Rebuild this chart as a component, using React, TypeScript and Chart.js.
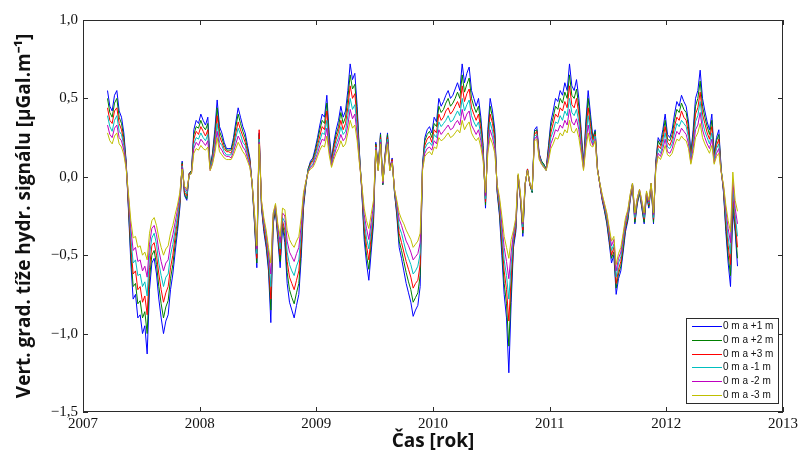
import React, { useEffect, useRef } from "react";
import { Chart, registerables } from "chart.js";

Chart.register(...registerables);

// Time axis (decimal years)
const years = [
  2007.21, 2007.23, 2007.25, 2007.27, 2007.29, 2007.31, 2007.33, 2007.35, 2007.37, 2007.39,
  2007.41, 2007.43, 2007.45, 2007.47, 2007.49, 2007.51, 2007.53, 2007.55, 2007.57, 2007.59,
  2007.61, 2007.63, 2007.65, 2007.67, 2007.69, 2007.71, 2007.73, 2007.75, 2007.77, 2007.79,
  2007.81, 2007.83, 2007.85, 2007.87, 2007.89, 2007.91, 2007.93, 2007.95, 2007.97, 2007.99,
  2008.01, 2008.03, 2008.05, 2008.07, 2008.09, 2008.11, 2008.13, 2008.15, 2008.17, 2008.19,
  2008.21, 2008.23, 2008.25, 2008.27, 2008.29, 2008.31, 2008.33, 2008.35, 2008.37, 2008.39,
  2008.41, 2008.43, 2008.45, 2008.47, 2008.49, 2008.51, 2008.53, 2008.55, 2008.57, 2008.59,
  2008.61, 2008.63, 2008.65, 2008.67, 2008.69, 2008.71, 2008.73, 2008.75, 2008.77, 2008.79,
  2008.81, 2008.83, 2008.85, 2008.87, 2008.89, 2008.91, 2008.93, 2008.95, 2008.97, 2008.99,
  2009.01, 2009.03, 2009.05, 2009.07, 2009.09, 2009.11, 2009.13, 2009.15, 2009.17, 2009.19,
  2009.21, 2009.23, 2009.25, 2009.27, 2009.29, 2009.31, 2009.33, 2009.35, 2009.37, 2009.39,
  2009.41, 2009.43, 2009.45, 2009.47, 2009.49, 2009.51, 2009.53, 2009.55, 2009.57, 2009.59,
  2009.61, 2009.63, 2009.65, 2009.67, 2009.69, 2009.71, 2009.73, 2009.75, 2009.77, 2009.79,
  2009.81, 2009.83, 2009.85, 2009.87, 2009.89, 2009.91, 2009.93, 2009.95, 2009.97, 2009.99,
  2010.01, 2010.03, 2010.05, 2010.07, 2010.09, 2010.11, 2010.13, 2010.15, 2010.17, 2010.19,
  2010.21, 2010.23, 2010.25, 2010.27, 2010.29, 2010.31, 2010.33, 2010.35, 2010.37, 2010.39,
  2010.41, 2010.43, 2010.45, 2010.47, 2010.49, 2010.51, 2010.53, 2010.55, 2010.57, 2010.59,
  2010.61, 2010.63, 2010.65, 2010.67, 2010.69, 2010.71, 2010.73, 2010.75, 2010.77, 2010.79,
  2010.81, 2010.83, 2010.85, 2010.87, 2010.89, 2010.91, 2010.93, 2010.95, 2010.97, 2010.99,
  2011.01, 2011.03, 2011.05, 2011.07, 2011.09, 2011.11, 2011.13, 2011.15, 2011.17, 2011.19,
  2011.21, 2011.23, 2011.25, 2011.27, 2011.29, 2011.31, 2011.33, 2011.35, 2011.37, 2011.39,
  2011.41, 2011.43, 2011.45, 2011.47, 2011.49, 2011.51, 2011.53, 2011.55, 2011.57, 2011.59,
  2011.61, 2011.63, 2011.65, 2011.67, 2011.69, 2011.71, 2011.73, 2011.75, 2011.77, 2011.79,
  2011.81, 2011.83, 2011.85, 2011.87, 2011.89, 2011.91, 2011.93, 2011.95, 2011.97, 2011.99,
  2012.01, 2012.03, 2012.05, 2012.07, 2012.09, 2012.11, 2012.13, 2012.15, 2012.17, 2012.19,
  2012.21, 2012.23, 2012.25, 2012.27, 2012.29, 2012.31, 2012.33, 2012.35, 2012.37, 2012.39,
  2012.41, 2012.43, 2012.45, 2012.47, 2012.49, 2012.51, 2012.53, 2012.55, 2012.57, 2012.59,
  2012.61,
];

const plus1 = [
  0.55, 0.45, 0.42, 0.52, 0.55, 0.42, 0.38, 0.28, 0.10, -0.22,
  -0.55, -0.78, -0.75, -0.90, -0.88, -1.00, -0.95, -1.13, -0.72, -0.55,
  -0.52, -0.62, -0.78, -0.90, -1.00, -0.92, -0.88, -0.72, -0.62, -0.48,
  -0.35, -0.20, 0.10, -0.12, -0.15, 0.02, 0.04, 0.30, 0.36, 0.34,
  0.40, 0.36, 0.33, 0.38, 0.06, 0.15, 0.30, 0.49, 0.32, 0.28,
  0.22, 0.18, 0.18, 0.18, 0.25, 0.35, 0.44, 0.38, 0.32, 0.28,
  0.20, 0.12, -0.05, -0.30, -0.58, 0.28, -0.20, -0.35, -0.45, -0.60,
  -0.93, -0.30, -0.22, -0.40, -0.58, -0.32, -0.42, -0.68, -0.80, -0.85,
  -0.90, -0.82, -0.75, -0.52, -0.20, -0.05, 0.05, 0.10, 0.12, 0.18,
  0.25, 0.33, 0.40, 0.38, 0.52, 0.28, 0.11, 0.22, 0.30, 0.36,
  0.45, 0.38, 0.42, 0.55, 0.72, 0.62, 0.66, 0.45, 0.15, -0.10,
  -0.40, -0.55, -0.66, -0.48, -0.30, 0.22, 0.05, 0.28, -0.05, 0.15,
  0.28, 0.05, 0.12, -0.10, -0.25, -0.45, -0.52, -0.60, -0.68, -0.74,
  -0.80, -0.89, -0.85, -0.82, -0.70, 0.08, 0.25, 0.30, 0.32, 0.28,
  0.38, 0.35, 0.50, 0.45, 0.48, 0.52, 0.55, 0.50, 0.52, 0.56,
  0.60, 0.55, 0.72, 0.60, 0.66, 0.70, 0.55, 0.50, 0.45, 0.50,
  0.38, 0.20, -0.20, 0.30, 0.50, 0.42, 0.30, -0.10, -0.25, -0.50,
  -0.75, -0.90, -1.25, -0.80, -0.45, -0.35, 0.00, -0.15, -0.38, -0.05,
  0.05, -0.05, -0.10, 0.30, 0.32, 0.15, 0.10, 0.08, 0.05, 0.20,
  0.35, 0.42, 0.50, 0.48, 0.55, 0.52, 0.60, 0.55, 0.72, 0.58,
  0.55, 0.62, 0.50, 0.30, 0.08, 0.35, 0.55, 0.40, 0.25, 0.30,
  0.05, -0.05, -0.15, -0.22, -0.30, -0.42, -0.55, -0.50, -0.75, -0.65,
  -0.60, -0.48, -0.35, -0.28, -0.15, -0.05, -0.30, -0.18, -0.10, -0.20,
  -0.30, -0.12, -0.20, -0.05, -0.30, 0.10, 0.25, 0.22, 0.30, 0.40,
  0.27, 0.25, 0.30, 0.40, 0.48, 0.45, 0.52, 0.48, 0.45, 0.35,
  0.15, 0.30, 0.50, 0.55, 0.68, 0.50, 0.42, 0.35, 0.30, 0.40,
  0.15, 0.25, 0.30, 0.05, -0.10, -0.35, -0.55, -0.70, -0.22, -0.35,
  -0.57,
];

const plus2 = [
  0.50, 0.41, 0.38, 0.47, 0.50, 0.38, 0.34, 0.25, 0.09, -0.20,
  -0.50, -0.70, -0.68, -0.81, -0.79, -0.90, -0.86, -1.00, -0.65, -0.50,
  -0.47, -0.56, -0.70, -0.81, -0.90, -0.83, -0.79, -0.65, -0.56, -0.43,
  -0.32, -0.18, 0.09, -0.11, -0.14, 0.02, 0.04, 0.27, 0.32, 0.31,
  0.36, 0.32, 0.30, 0.34, 0.06, 0.14, 0.27, 0.44, 0.29, 0.25,
  0.20, 0.17, 0.17, 0.17, 0.23, 0.32, 0.40, 0.34, 0.29, 0.25,
  0.18, 0.11, -0.05, -0.29, -0.55, 0.27, -0.19, -0.33, -0.43, -0.57,
  -0.85, -0.29, -0.21, -0.38, -0.54, -0.30, -0.38, -0.61, -0.72, -0.77,
  -0.81, -0.74, -0.68, -0.47, -0.18, -0.05, 0.05, 0.09, 0.11, 0.16,
  0.23, 0.30, 0.36, 0.34, 0.47, 0.25, 0.10, 0.20, 0.27, 0.32,
  0.41, 0.34, 0.38, 0.50, 0.65, 0.56, 0.59, 0.41, 0.14, -0.09,
  -0.36, -0.50, -0.59, -0.43, -0.27, 0.21, 0.05, 0.27, -0.05, 0.14,
  0.27, 0.05, 0.11, -0.10, -0.23, -0.41, -0.47, -0.54, -0.61, -0.67,
  -0.72, -0.80, -0.77, -0.74, -0.63, 0.07, 0.23, 0.27, 0.29, 0.25,
  0.34, 0.32, 0.45, 0.41, 0.43, 0.47, 0.50, 0.45, 0.47, 0.50,
  0.54, 0.50, 0.65, 0.54, 0.59, 0.63, 0.50, 0.45, 0.41, 0.45,
  0.34, 0.18, -0.18, 0.27, 0.45, 0.38, 0.27, -0.09, -0.23, -0.45,
  -0.68, -0.81, -1.08, -0.72, -0.43, -0.33, 0.00, -0.14, -0.36, -0.05,
  0.05, -0.05, -0.10, 0.29, 0.30, 0.14, 0.10, 0.08, 0.05, 0.18,
  0.32, 0.38, 0.45, 0.43, 0.50, 0.47, 0.54, 0.50, 0.65, 0.52,
  0.50, 0.56, 0.45, 0.27, 0.07, 0.32, 0.50, 0.36, 0.24, 0.29,
  0.05, -0.05, -0.14, -0.21, -0.29, -0.40, -0.52, -0.48, -0.71, -0.62,
  -0.57, -0.46, -0.33, -0.27, -0.14, -0.05, -0.29, -0.17, -0.10, -0.19,
  -0.29, -0.11, -0.19, -0.05, -0.29, 0.09, 0.23, 0.20, 0.27, 0.36,
  0.24, 0.23, 0.27, 0.36, 0.43, 0.41, 0.47, 0.43, 0.41, 0.32,
  0.14, 0.27, 0.45, 0.50, 0.61, 0.45, 0.38, 0.32, 0.27, 0.36,
  0.14, 0.23, 0.27, 0.05, -0.09, -0.32, -0.50, -0.63, -0.17, -0.32,
  -0.52,
];

const plus3 = [
  0.44, 0.36, 0.34, 0.42, 0.44, 0.34, 0.30, 0.22, 0.08, -0.18,
  -0.44, -0.62, -0.60, -0.72, -0.70, -0.80, -0.76, -0.88, -0.58, -0.44,
  -0.42, -0.50, -0.62, -0.72, -0.80, -0.74, -0.70, -0.58, -0.50, -0.38,
  -0.28, -0.16, 0.08, -0.10, -0.12, 0.02, 0.03, 0.24, 0.29, 0.27,
  0.32, 0.29, 0.26, 0.30, 0.05, 0.12, 0.24, 0.39, 0.26, 0.22,
  0.18, 0.16, 0.16, 0.15, 0.20, 0.28, 0.35, 0.30, 0.26, 0.22,
  0.16, 0.10, -0.05, -0.27, -0.52, 0.30, -0.18, -0.32, -0.41, -0.54,
  -0.78, -0.27, -0.20, -0.36, -0.50, -0.28, -0.34, -0.54, -0.64, -0.68,
  -0.72, -0.66, -0.60, -0.42, -0.16, -0.04, 0.04, 0.08, 0.10, 0.14,
  0.20, 0.26, 0.32, 0.30, 0.42, 0.22, 0.09, 0.18, 0.24, 0.29,
  0.36, 0.30, 0.34, 0.44, 0.58, 0.50, 0.53, 0.36, 0.12, -0.08,
  -0.32, -0.44, -0.53, -0.38, -0.24, 0.20, 0.05, 0.25, -0.04, 0.14,
  0.25, 0.05, 0.11, -0.09, -0.21, -0.36, -0.42, -0.48, -0.54, -0.59,
  -0.64, -0.71, -0.68, -0.66, -0.56, 0.06, 0.20, 0.24, 0.26, 0.22,
  0.30, 0.28, 0.40, 0.36, 0.38, 0.42, 0.44, 0.40, 0.42, 0.45,
  0.48, 0.44, 0.58, 0.48, 0.53, 0.56, 0.44, 0.40, 0.36, 0.40,
  0.30, 0.16, -0.16, 0.24, 0.40, 0.34, 0.24, -0.08, -0.20, -0.40,
  -0.60, -0.72, -0.92, -0.64, -0.41, -0.32, 0.01, -0.14, -0.34, -0.05,
  0.05, -0.05, -0.09, 0.27, 0.29, 0.14, 0.09, 0.07, 0.05, 0.16,
  0.28, 0.34, 0.40, 0.38, 0.44, 0.42, 0.48, 0.44, 0.58, 0.46,
  0.44, 0.50, 0.40, 0.24, 0.06, 0.28, 0.44, 0.32, 0.23, 0.27,
  0.05, -0.05, -0.14, -0.20, -0.27, -0.38, -0.50, -0.45, -0.68, -0.59,
  -0.54, -0.43, -0.32, -0.25, -0.14, -0.05, -0.27, -0.16, -0.09, -0.18,
  -0.27, -0.11, -0.18, -0.05, -0.27, 0.08, 0.20, 0.18, 0.24, 0.32,
  0.22, 0.20, 0.24, 0.32, 0.38, 0.36, 0.42, 0.38, 0.36, 0.28,
  0.12, 0.24, 0.40, 0.44, 0.54, 0.40, 0.34, 0.28, 0.24, 0.32,
  0.12, 0.20, 0.24, 0.04, -0.08, -0.28, -0.44, -0.56, -0.12, -0.28,
  -0.45,
];

const minus1 = [
  0.39, 0.32, 0.29, 0.36, 0.39, 0.29, 0.27, 0.20, 0.07, -0.15,
  -0.39, -0.55, -0.53, -0.63, -0.62, -0.70, -0.67, -0.76, -0.50, -0.39,
  -0.36, -0.43, -0.55, -0.63, -0.70, -0.64, -0.62, -0.50, -0.43, -0.34,
  -0.25, -0.14, 0.07, -0.08, -0.11, 0.01, 0.03, 0.21, 0.25, 0.24,
  0.28, 0.25, 0.23, 0.27, 0.05, 0.11, 0.21, 0.34, 0.22, 0.20,
  0.16, 0.14, 0.14, 0.14, 0.18, 0.25, 0.31, 0.27, 0.22, 0.20,
  0.14, 0.08, -0.04, -0.26, -0.49, 0.24, -0.17, -0.30, -0.38, -0.51,
  -0.70, -0.26, -0.19, -0.34, -0.46, -0.26, -0.29, -0.48, -0.56, -0.60,
  -0.63, -0.57, -0.53, -0.36, -0.14, -0.04, 0.04, 0.07, 0.08, 0.13,
  0.18, 0.23, 0.28, 0.27, 0.36, 0.20, 0.08, 0.15, 0.21, 0.25,
  0.32, 0.27, 0.29, 0.39, 0.50, 0.43, 0.46, 0.32, 0.11, -0.07,
  -0.28, -0.39, -0.46, -0.34, -0.21, 0.19, 0.04, 0.24, -0.04, 0.13,
  0.24, 0.04, 0.10, -0.09, -0.19, -0.32, -0.36, -0.42, -0.48, -0.52,
  -0.56, -0.62, -0.60, -0.57, -0.49, 0.06, 0.18, 0.21, 0.22, 0.20,
  0.27, 0.25, 0.35, 0.32, 0.34, 0.36, 0.39, 0.35, 0.36, 0.39,
  0.42, 0.39, 0.50, 0.42, 0.46, 0.49, 0.39, 0.35, 0.32, 0.35,
  0.27, 0.14, -0.14, 0.21, 0.35, 0.29, 0.21, -0.07, -0.18, -0.35,
  -0.53, -0.63, -0.78, -0.56, -0.38, -0.30, 0.01, -0.13, -0.32, -0.04,
  0.04, -0.04, -0.09, 0.26, 0.27, 0.13, 0.09, 0.07, 0.04, 0.14,
  0.25, 0.29, 0.35, 0.34, 0.39, 0.36, 0.42, 0.39, 0.50, 0.41,
  0.39, 0.43, 0.35, 0.21, 0.06, 0.25, 0.39, 0.28, 0.21, 0.26,
  0.04, -0.04, -0.13, -0.19, -0.26, -0.36, -0.47, -0.43, -0.64, -0.55,
  -0.51, -0.41, -0.30, -0.24, -0.13, -0.04, -0.26, -0.15, -0.09, -0.17,
  -0.26, -0.10, -0.17, -0.04, -0.26, 0.07, 0.18, 0.15, 0.21, 0.28,
  0.19, 0.18, 0.21, 0.28, 0.34, 0.32, 0.36, 0.34, 0.32, 0.25,
  0.11, 0.21, 0.35, 0.39, 0.48, 0.35, 0.29, 0.25, 0.21, 0.28,
  0.11, 0.18, 0.21, 0.04, -0.07, -0.25, -0.39, -0.49, -0.07, -0.24,
  -0.38,
];

const minus2 = [
  0.33, 0.27, 0.25, 0.31, 0.33, 0.25, 0.23, 0.17, 0.06, -0.13,
  -0.33, -0.47, -0.45, -0.54, -0.53, -0.60, -0.57, -0.64, -0.43, -0.33,
  -0.31, -0.37, -0.47, -0.54, -0.60, -0.55, -0.53, -0.43, -0.37, -0.29,
  -0.21, -0.12, 0.06, -0.07, -0.09, 0.01, 0.02, 0.18, 0.22, 0.20,
  0.24, 0.22, 0.20, 0.23, 0.04, 0.09, 0.18, 0.29, 0.19, 0.17,
  0.14, 0.13, 0.13, 0.12, 0.16, 0.21, 0.26, 0.23, 0.19, 0.17,
  0.12, 0.07, -0.04, -0.24, -0.46, 0.22, -0.16, -0.28, -0.36, -0.48,
  -0.62, -0.24, -0.18, -0.32, -0.42, -0.23, -0.25, -0.41, -0.48, -0.51,
  -0.54, -0.49, -0.45, -0.31, -0.12, -0.03, 0.03, 0.06, 0.07, 0.11,
  0.15, 0.20, 0.24, 0.23, 0.31, 0.17, 0.07, 0.13, 0.18, 0.22,
  0.27, 0.23, 0.25, 0.33, 0.43, 0.37, 0.40, 0.27, 0.09, -0.06,
  -0.24, -0.33, -0.40, -0.29, -0.18, 0.18, 0.04, 0.22, -0.04, 0.12,
  0.22, 0.04, 0.10, -0.08, -0.17, -0.27, -0.31, -0.36, -0.41, -0.44,
  -0.48, -0.53, -0.51, -0.49, -0.42, 0.05, 0.15, 0.18, 0.19, 0.17,
  0.23, 0.21, 0.30, 0.27, 0.29, 0.31, 0.33, 0.30, 0.31, 0.34,
  0.36, 0.33, 0.43, 0.36, 0.40, 0.42, 0.33, 0.30, 0.27, 0.30,
  0.23, 0.12, -0.12, 0.18, 0.30, 0.25, 0.18, -0.06, -0.15, -0.30,
  -0.45, -0.54, -0.65, -0.48, -0.36, -0.28, 0.01, -0.12, -0.30, -0.04,
  0.04, -0.04, -0.08, 0.24, 0.26, 0.12, 0.08, 0.06, 0.04, 0.12,
  0.21, 0.25, 0.30, 0.29, 0.33, 0.31, 0.36, 0.33, 0.43, 0.35,
  0.33, 0.37, 0.30, 0.18, 0.05, 0.21, 0.33, 0.24, 0.20, 0.24,
  0.04, -0.04, -0.12, -0.18, -0.24, -0.34, -0.44, -0.40, -0.60, -0.52,
  -0.48, -0.38, -0.28, -0.22, -0.12, -0.04, -0.24, -0.14, -0.08, -0.16,
  -0.24, -0.10, -0.16, -0.04, -0.24, 0.06, 0.15, 0.13, 0.18, 0.24,
  0.16, 0.15, 0.18, 0.24, 0.29, 0.27, 0.31, 0.29, 0.27, 0.21,
  0.09, 0.18, 0.30, 0.33, 0.41, 0.30, 0.25, 0.21, 0.18, 0.24,
  0.09, 0.15, 0.18, 0.03, -0.06, -0.21, -0.33, -0.42, -0.02, -0.20,
  -0.30,
];

const minus3 = [
  0.28, 0.23, 0.21, 0.26, 0.28, 0.21, 0.19, 0.14, 0.05, -0.11,
  -0.28, -0.39, -0.38, -0.45, -0.44, -0.50, -0.48, -0.53, -0.36, -0.28,
  -0.26, -0.31, -0.39, -0.45, -0.50, -0.46, -0.44, -0.36, -0.31, -0.24,
  -0.18, -0.10, 0.05, -0.06, -0.08, 0.01, 0.02, 0.15, 0.18, 0.17,
  0.20, 0.18, 0.17, 0.19, 0.04, 0.08, 0.15, 0.25, 0.16, 0.14,
  0.12, 0.11, 0.11, 0.11, 0.14, 0.18, 0.22, 0.19, 0.16, 0.14,
  0.10, 0.06, -0.04, -0.23, -0.44, 0.21, -0.15, -0.26, -0.34, -0.45,
  -0.55, -0.23, -0.17, -0.30, -0.38, -0.20, -0.21, -0.34, -0.40, -0.43,
  -0.45, -0.41, -0.38, -0.26, -0.10, -0.03, 0.03, 0.05, 0.06, 0.09,
  0.13, 0.17, 0.20, 0.19, 0.26, 0.14, 0.06, 0.11, 0.15, 0.18,
  0.23, 0.19, 0.21, 0.28, 0.36, 0.31, 0.33, 0.23, 0.08, -0.05,
  -0.20, -0.28, -0.33, -0.24, -0.15, 0.17, 0.04, 0.21, -0.03, 0.11,
  0.21, 0.04, 0.09, -0.08, -0.15, -0.23, -0.27, -0.30, -0.34, -0.37,
  -0.40, -0.45, -0.43, -0.41, -0.36, 0.04, 0.13, 0.15, 0.16, 0.14,
  0.19, 0.18, 0.25, 0.23, 0.24, 0.26, 0.28, 0.25, 0.26, 0.28,
  0.30, 0.28, 0.36, 0.30, 0.33, 0.35, 0.28, 0.25, 0.23, 0.25,
  0.19, 0.10, -0.10, 0.15, 0.25, 0.21, 0.15, -0.05, -0.13, -0.25,
  -0.38, -0.45, -0.52, -0.40, -0.34, -0.26, 0.02, -0.11, -0.29, -0.04,
  0.04, -0.04, -0.08, 0.23, 0.24, 0.11, 0.08, 0.06, 0.04, 0.10,
  0.18, 0.21, 0.25, 0.24, 0.28, 0.26, 0.30, 0.28, 0.36, 0.29,
  0.28, 0.31, 0.25, 0.15, 0.04, 0.18, 0.28, 0.20, 0.19, 0.23,
  0.04, -0.04, -0.11, -0.17, -0.23, -0.32, -0.41, -0.38, -0.56, -0.49,
  -0.45, -0.36, -0.26, -0.21, -0.11, -0.04, -0.23, -0.14, -0.08, -0.15,
  -0.23, -0.09, -0.15, -0.04, -0.23, 0.05, 0.13, 0.11, 0.15, 0.20,
  0.14, 0.13, 0.15, 0.20, 0.24, 0.23, 0.26, 0.24, 0.23, 0.18,
  0.08, 0.15, 0.25, 0.28, 0.34, 0.25, 0.21, 0.18, 0.15, 0.20,
  0.08, 0.13, 0.15, 0.03, -0.05, -0.18, -0.28, -0.35, 0.03, -0.15,
  -0.22,
];

const seriesLabels = ["0 m a +1 m", "0 m a +2 m", "0 m a +3 m", "0 m a -1 m", "0 m a -2 m", "0 m a -3 m"];
const seriesValues = [plus1, plus2, plus3, minus1, minus2, minus3];
const seriesColors = ["#0000ff", "#008000", "#ff0000", "#00bfbf", "#bf00bf", "#bfbf00"];

const xTicks = [2007, 2008, 2009, 2010, 2011, 2012, 2013];
const yTicks = [-1.5, -1.0, -0.5, 0.0, 0.5, 1.0];

const xTitle = "Čas [rok]";
const yTitle = "Vert. grad. tíže hydr. signálu [µGal.m⁻¹]";

const fmtY = (v: number) => {
  const s = Math.abs(v).toFixed(1).replace(".", ",");
  return v < -1e-9 ? "\u2212" + s : s;
};

const framePlugin = {
  id: "matlabFrame",
  afterDatasetsDraw(chart: any) {
    const { ctx, chartArea, scales } = chart;
    const { left, right, top, bottom } = chartArea;
    const x = scales.x;
    const y = scales.y;
    ctx.save();
    ctx.strokeStyle = "#2b2b2b";
    ctx.lineWidth = 1;
    ctx.strokeRect(Math.round(left) + 0.5, Math.round(top) + 0.5, Math.round(right - left) - 1, Math.round(bottom - top) - 1);
    ctx.beginPath();
    const tl = 5;
    xTicks.forEach((v) => {
      const px = Math.round(x.getPixelForValue(v)) + 0.5;
      ctx.moveTo(px, bottom);
      ctx.lineTo(px, bottom - tl);
      ctx.moveTo(px, top);
      ctx.lineTo(px, top + tl);
    });
    yTicks.forEach((v) => {
      const py = Math.round(y.getPixelForValue(v)) + 0.5;
      ctx.moveTo(left, py);
      ctx.lineTo(left + tl, py);
      ctx.moveTo(right, py);
      ctx.lineTo(right - tl, py);
    });
    ctx.stroke();

    // legend box (bottom-right inside axes)
    const bx = right - 97;
    const by = bottom - 94;
    const bw = 92;
    const bh = 85;
    ctx.fillStyle = "#ffffff";
    ctx.fillRect(bx, by, bw, bh);
    ctx.strokeStyle = "#2b2b2b";
    ctx.strokeRect(bx + 0.5, by + 0.5, bw, bh);
    ctx.font = "10px 'Liberation Sans', Arial, sans-serif";
    ctx.textBaseline = "middle";
    ctx.textAlign = "left";
    chart.data.datasets.forEach((ds: any, i: number) => {
      const ry = Math.round(by + 8 + i * 13.8) + 0.5;
      ctx.strokeStyle = ds.borderColor;
      ctx.lineWidth = 1;
      ctx.beginPath();
      ctx.moveTo(bx + 6, ry);
      ctx.lineTo(bx + 36, ry);
      ctx.stroke();
      ctx.fillStyle = "#111";
      ctx.fillText(ds.label, bx + 37, ry);
    });
    ctx.restore();
  },
};

export default function App() {
  const ref = useRef<HTMLCanvasElement | null>(null);
  useEffect(() => {
    if (!ref.current) return;
    const datasets = seriesValues.map((vals, i) => ({
      label: seriesLabels[i],
      data: years.map((t, k) => ({ x: t, y: vals[k] })),
      borderColor: seriesColors[i],
      backgroundColor: seriesColors[i],
      borderWidth: 1,
      pointRadius: 0,
      tension: 0,
      fill: false,
      order: seriesValues.length - i,
    }));
    const chart = new Chart(ref.current, {
      type: "line",
      data: { datasets },
      options: {
        animation: false,
        responsive: false,
        maintainAspectRatio: false,
        layout: { padding: { top: 20, right: 25, left: 0, bottom: 0 } },
        plugins: { legend: { display: false }, tooltip: { enabled: false } },
        scales: {
          x: {
            type: "linear",
            min: 2007,
            max: 2013,
            afterBuildTicks: (s: any) => {
              s.ticks = xTicks.map((v) => ({ value: v }));
            },
            afterFit: (s: any) => {
              s.height = 49;
            },
            grid: { display: false, drawTicks: false },
            border: { display: false },
            ticks: {
              padding: 3,
              color: "#111",
              font: { family: "'Liberation Serif', 'Times New Roman', serif", size: 15 },
              callback: (v: any) => String(v),
              maxRotation: 0,
              autoSkip: false,
            },
            title: {
              display: true,
              text: xTitle,
              color: "#111",
              font: { family: "'Open Sans', sans-serif", size: 19, weight: "bold" },
              padding: { top: 0, bottom: 8 },
            },
          },
          y: {
            type: "linear",
            min: -1.5,
            max: 1.0,
            afterBuildTicks: (s: any) => {
              s.ticks = yTicks.map((v) => ({ value: v }));
            },
            afterFit: (s: any) => {
              s.width = 83;
            },
            grid: { display: false, drawTicks: false },
            border: { display: false },
            ticks: {
              padding: 5,
              color: "#111",
              font: { family: "'Liberation Serif', 'Times New Roman', serif", size: 15 },
              callback: (v: any) => fmtY(Number(v)),
              autoSkip: false,
            },
            title: {
              display: true,
              text: yTitle,
              color: "#111",
              font: { family: "'Open Sans', sans-serif", size: 19, weight: "bold" },
              padding: { top: 13, bottom: 0 },
            },
          },
        },
      },
      plugins: [framePlugin],
    });
    return () => chart.destroy();
  }, []);
  return (
    <div style={{ position: "absolute", left: 0, top: 0, width: 808, height: 461, background: "#fff" }}>
      <canvas ref={ref} width={808} height={461} style={{ width: 808, height: 461, display: "block" }} />
    </div>
  );
}
